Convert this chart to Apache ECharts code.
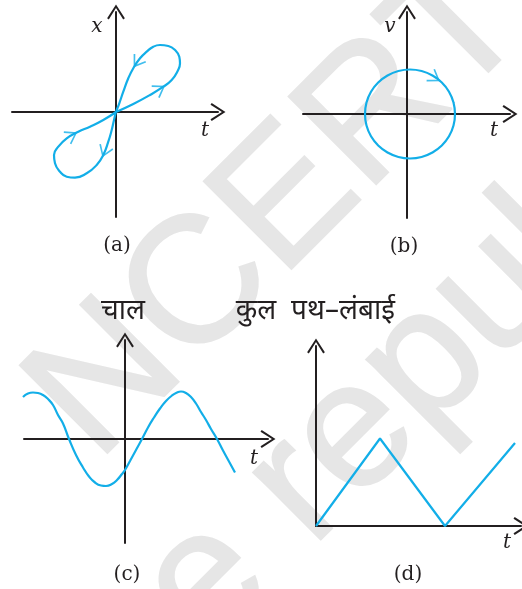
<!DOCTYPE html>
<html>
<head>
<meta charset="utf-8">
<script src="https://cdn.jsdelivr.net/npm/echarts@6/dist/echarts.min.js"></script>
<style>
  html, body { margin: 0; padding: 0; background: #fff; }
  #main { width: 522px; height: 589px; }
</style>
</head>
<body>
<div id="main"></div>
<script>
var chart = echarts.init(document.getElementById('main'));

// (a) x-t : figure-eight loop through the origin (1 unit = 10 px square)
var loopPath = [[0,0],[1.73,0.8],[3.4,1.7],[4.73,2.53],[5.57,3.2],[6.13,4.03],[6.4,4.87],[6.33,5.53],[5.9,6.2],
    [5.23,6.6],[4.4,6.7],[3.73,6.53],[3.07,6.03],[2.4,5.37],[1.73,4.37],[1.23,3.37],[0.73,2.03],[0.33,0.87],[0,0],
    [-0.2,-0.8],[-0.43,-1.8],[-0.77,-2.97],[-1.27,-4.3],[-1.93,-5.3],[-2.93,-6.13],[-4.1,-6.57],[-4.93,-6.47],
    [-5.6,-5.97],[-6.1,-5.13],[-6.2,-4.3],[-5.77,-3.47],[-4.93,-2.63],[-3.77,-1.97],[-2.6,-1.47],[-1.27,-0.8],[0,0]];
// arrow marks on the loop: x, y, direction (deg)
var loopArrows = [[2.1,4.95,236],[4.4,2.3,32],[-4.4,-2.33,30],[-1.15,-3.97,249]];

// (b) v-t : closed circle
var circlePath = [[4.8,0],[4.65,1.15],[4.2,2.23],[3.48,3.15],[2.55,3.85],[1.46,4.3],[0.3,4.45],[-0.86,4.3],
    [-1.95,3.85],[-2.88,3.15],[-3.6,2.23],[-4.05,1.15],[-4.2,0],[-4.05,-1.15],[-3.6,-2.23],[-2.88,-3.15],
    [-1.95,-3.85],[-0.86,-4.3],[0.3,-4.45],[1.46,-4.3],[2.55,-3.85],[3.48,-3.15],[4.2,-2.23],[4.65,-1.15],
    [4.8,0],[4.65,1.15]];
var circleArrows = [[2.8,3.6,-34]];

// (c) speed - t
var speedPath = [[-10.2,4.2],[-9.7,4.55],[-9.2,4.65],[-8.7,4.6],[-8.2,4.4],[-7.7,4.0],[-7.2,3.4],[-6.7,2.4],
    [-6.2,1.55],[-5.6,0],[-4.9,-1.6],[-4.2,-2.85],[-3.6,-3.75],[-3.0,-4.35],[-2.4,-4.65],[-1.9,-4.7],[-1.3,-4.5],
    [-0.8,-4.1],[-0.3,-3.5],[0,-3.1],[0.5,-2.2],[1.1,-1.1],[1.7,0],[2.3,1.15],[2.9,2.15],[3.5,3.05],[4.1,3.8],
    [4.7,4.35],[5.2,4.65],[5.6,4.75],[6.1,4.6],[6.6,4.2],[7.1,3.55],[7.6,2.7],[8.1,1.9],[8.6,1.0],[9.2,0],
    [9.8,-1.15],[10.4,-2.25],[11.0,-3.35]];

// (d) total path length - t
var lengthPath = [[0,0],[6.4,8.75],[12.9,0],[19.9,8.3]];

var ink = '#231f20';
var blue = '#12aee8';
var grey = '#e6e6e6';
var chevron = 'path://M9,0 L18,14 L16.3,15.2 L9,3.6 L1.7,15.2 L0,14 Z';

function xAx(i, min, max) {
    return {
        type: 'value', gridIndex: i, min: min, max: max,
        axisLine: { lineStyle: { color: ink, width: 2 }, symbol: ['none', chevron], symbolSize: [18, 15] },
        axisTick: { show: false }, axisLabel: { show: false }, splitLine: { show: false }
    };
}
var yAx = xAx;

function curve(i, data, smooth) {
    return {
        type: 'line', xAxisIndex: i, yAxisIndex: i, data: data, smooth: smooth,
        showSymbol: false, silent: true, clip: false,
        lineStyle: { color: blue, width: 2.2 }
    };
}
function arrows(i, data) {
    return {
        type: 'scatter', xAxisIndex: i, yAxisIndex: i, silent: true,
        symbol: chevron, symbolSize: [15, 12], itemStyle: { color: blue },
        data: data.map(function (d) {
            return { value: [d[0], d[1]], symbolRotate: d[2] - 90 };
        })
    };
}

function label(text, x, y, font) {
    return {
        type: 'text', x: x, y: y, silent: true,
        style: { text: text, fill: ink, font: font, align: 'center', verticalAlign: 'middle' }
    };
}
function mark(text, x, y, align) {
    return {
        type: 'text', x: x, y: y, rotation: Math.PI / 4, z: -10, silent: true,
        style: { text: text, fill: grey, stroke: grey, lineWidth: 2, font: '180px "Liberation Sans"',
                 align: align, verticalAlign: 'middle' }
    };
}
var italic = 'italic 20px "DejaVu Serif"';
var caption = '20px "DejaVu Serif"';
var hindi = '28px "Noto Sans Devanagari", "Noto Sans", sans-serif';

var option = {
    backgroundColor: '#fff',
    animation: false,
    graphic: [
        mark('NCERT', 280, 210, 'center'),
        mark('be republished', 100, 690, 'left'),
        label('x', 97, 27, italic),
        label('t', 205, 131, italic),
        label('v', 390, 27, italic),
        label('t', 494, 131, italic),
        label('t', 254, 459, italic),
        label('t', 507, 543, italic),
        label('(a)', 117, 246, caption),
        label('(b)', 404, 247, caption),
        label('(c)', 127, 575, caption),
        label('(d)', 408, 575, caption),
        label('चाल', 123, 314, hindi),
        label('कुल', 256, 314, hindi),
        label('पथ–लंबाई', 343, 314, hindi)
    ],
    grid: [
        { left: 12, top: 12, width: 206, height: 205 },
        { left: 303, top: 12, width: 207, height: 206 },
        { left: 24, top: 340, width: 244, height: 203 },
        { left: 316, top: 346, width: 205, height: 180 }
    ],
    xAxis: [xAx(0, -10.4, 10.2), xAx(1, -10.4, 10.3), xAx(2, -10.1, 14.3), xAx(3, 0, 20.5)],
    yAxis: [yAx(0, -10.5, 10.0), yAx(1, -10.4, 10.2), yAx(2, -10.4, 9.9), yAx(3, 0, 18.0)],
    series: [
        curve(0, loopPath, 0.5),
        arrows(0, loopArrows),
        curve(1, circlePath, 0.5),
        arrows(1, circleArrows),
        curve(2, speedPath, 0.5),
        curve(3, lengthPath, false)
    ]
};

chart.setOption(option);
</script>
</body>
</html>
